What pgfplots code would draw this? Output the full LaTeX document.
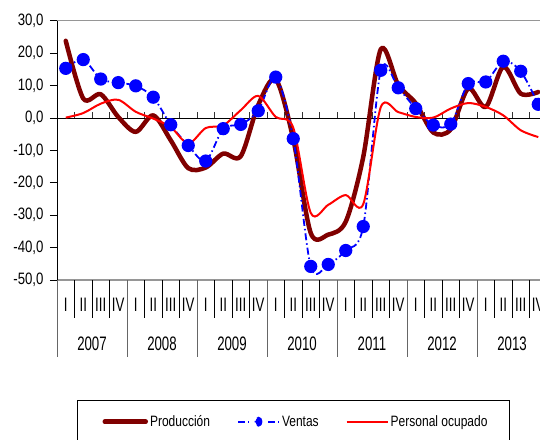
\documentclass[border=0pt]{standalone}
\usepackage{pgfplots}
\pgfplotsset{compat=1.18}
\usepackage{fontspec}
\setmainfont[FakeStretch=0.8]{Liberation Sans}
\newfontfamily\xfont[FakeStretch=0.68]{Liberation Sans}
\definecolor{prod}{RGB}{128,0,0}
\definecolor{vent}{RGB}{0,0,255}
\definecolor{pers}{RGB}{255,0,0}
\definecolor{frame}{RGB}{150,150,150}

\pgfplotstableread{
k prod vent pers
1 23.8 15.3 0.1
2 6.0 18.0 1.5
3 7.3 12.0 4.4
4 0.3 10.9 5.6
5 -4.3 9.9 1.9
6 0.8 6.4 -0.2
7 -6.9 -2.1 -2.8
8 -15.5 -8.5 -7.9
9 -15.3 -13.3 -3.1
10 -11.0 -3.3 -2.3
11 -11.8 -2.0 2.4
12 4.0 2.2 6.8
13 11.9 12.6 0.3
14 -6.5 -6.4 -3.0
15 -35.5 -45.8 -29.3
16 -36.0 -45.2 -26.8
17 -32.0 -40.9 -23.8
18 -12.0 -33.5 -26.6
19 21.2 14.7 3.3
20 10.2 9.3 1.8
21 4.5 2.9 0.3
22 -4.5 -2.2 0.1
23 -3.5 -1.9 2.9
24 9.1 10.6 4.6
25 3.4 11.1 3.4
26 15.8 17.5 0.8
27 7.5 14.4 -3.8
28 8.0 4.2 -5.9
}\datatable

\begin{document}
\begin{tikzpicture}
\begin{axis}[
  scale only axis, width=483pt, height=259.3pt,
  xmin=0.5, xmax=28.1, ymin=-50, ymax=30,
  clip=false,
  axis lines*=left,
  x axis line style={-, draw=frame, line width=1.3pt},
  y axis line style={-, draw=black, line width=0.8pt},
  ytick={-50,-40,...,30},
  tick align=outside,
  major tick length=7pt,
  y tick style={black, line width=0.8pt},
  yticklabel style={font=\fontsize{16.5}{18}\selectfont, anchor=east, xshift=-3pt},
  /pgf/number format/.cd, fixed, fixed zerofill, precision=1, use comma, assume math mode=true,
  /pgfplots/.cd,
  xtick={1,...,28},
  xticklabels={I,II,III,IV,I,II,III,IV,I,II,III,IV,I,II,III,IV,I,II,III,IV,I,II,III,IV,I,II,III,IV},
  x tick style={draw=none},
  xticklabel style={font=\xfont\fontsize{19.5}{21}\selectfont, anchor=center, yshift=-18pt},
  extra x ticks={2.5,6.5,10.5,14.5,18.5,22.5,26.5},
  extra x tick labels={2007,2008,2009,2010,2011,2012,2013},
  extra x tick style={tick style={draw=none}, tick label style={font=\xfont\fontsize{21}{23}\selectfont, anchor=center, yshift=-39pt}},
  legend columns=3,
  legend style={draw=none, fill=none, at={(axis description cs:0.4948,-0.5465)}, anchor=center,
    font=\fontsize{15}{17}\selectfont,
    /tikz/every even column/.append style={column sep=25pt}},
]
\coordinate (O) at (axis cs:0.5,-50);
% frame lines
\draw[frame, line width=1.3pt] (axis cs:0.5,30) -- (axis cs:28.1,30);
\draw[black, line width=0.8pt] (axis cs:0.5,0) -- (axis cs:28.1,0);
\pgfplotsinvokeforeach{1.5,2.5,3.5,4.5,5.5,6.5,7.5,8.5,9.5,10.5,11.5,12.5,13.5,14.5,15.5,16.5,17.5,18.5,19.5,20.5,21.5,22.5,23.5,24.5,25.5,26.5,27.5}{
  \draw[black!80, line width=0.8pt] (axis cs:#1,0) -- ++(0pt,6pt);
}
\pgfplotsinvokeforeach{1.5,2.5,3.5,5.5,6.5,7.5,9.5,10.5,11.5,13.5,14.5,15.5,17.5,18.5,19.5,21.5,22.5,23.5,25.5,26.5,27.5}{
  \draw[black, line width=0.7pt] (axis cs:#1,-50) -- ++(0pt,-38pt);
}
\pgfplotsinvokeforeach{0.5,4.5,8.5,12.5,16.5,20.5,24.5}{
  \draw[black!60, line width=0.8pt] (axis cs:#1,-50) -- ++(0pt,-77pt);
}
\addplot[prod, line width=4.5pt, smooth, line join=round, line cap=round,
  legend image code/.code={\draw[prod, line width=4.5pt, line cap=round] (0pt,0pt) -- (41pt,0pt);}]
  table[x=k, y=prod] {\datatable};
\addlegendentry{Producción}
\addplot[vent, line width=1.8pt, smooth, dash pattern=on 7pt off 3pt on 1.5pt off 3pt,
  mark=*, mark size=5.7pt, mark options={solid, fill=vent, draw=vent},
  legend image code/.code={\draw[vent, line width=2pt] (0pt,0pt) -- (11pt,0pt);
     \fill[vent] (20.5pt,0pt) ellipse (3pt and 4pt);
     \draw[vent, line width=2pt] (30pt,0pt) -- (41pt,0pt);}]
  table[x=k, y=vent] {\datatable};
\addlegendentry{Ventas}
\addplot[pers, line width=2pt, smooth,
  legend image code/.code={\draw[pers, line width=2pt] (0pt,0pt) -- (41pt,0pt);}]
  table[x=k, y=pers] {\datatable};
\addlegendentry{Personal ocupado}
\end{axis}
\path (O) ++(-57pt,-159pt) coordinate (BL);
\draw[black, line width=0.8pt] ([shift={(77pt,-5pt)}]BL) rectangle ([shift={(509pt,39pt)}]BL);
\pgfresetboundingbox
\useasboundingbox (BL) rectangle ([shift={(540pt,439pt)}]BL);
\end{tikzpicture}
\end{document}
